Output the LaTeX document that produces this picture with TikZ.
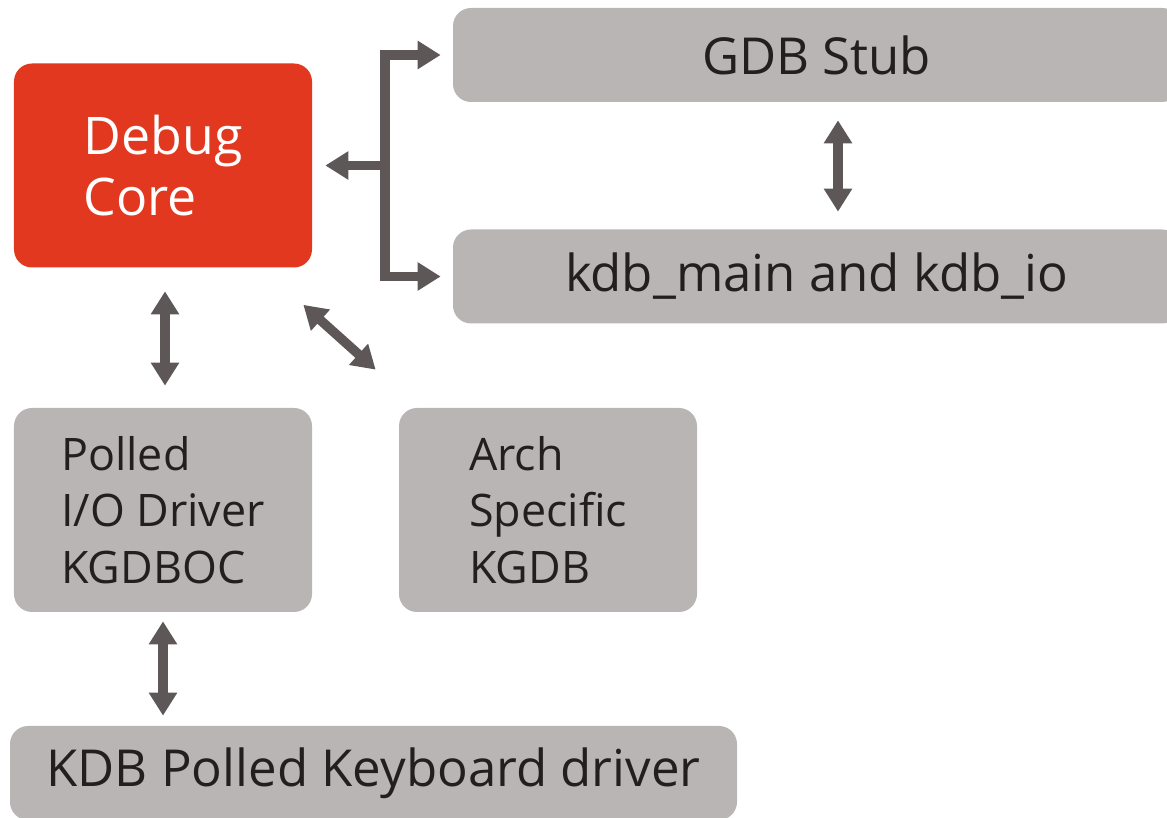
\documentclass[tikz,border=0pt]{standalone}
\usepackage{fontspec}
\setmainfont{Open Sans}
\usetikzlibrary{arrows.meta}
\definecolor{corered}{HTML}{E1381F}
\definecolor{boxgray}{HTML}{B8B5B4}
\definecolor{arrowgray}{HTML}{5D5857}
\definecolor{textdark}{HTML}{231F20}
\def\tiplen{0.46cm}
\def\tipwid{0.54cm}

\begin{document}
\begin{tikzpicture}[line join=miter]
		\tikzstyle{block}
		=[rectangle, rounded corners=0.36cm, fill=boxgray, text=textdark, inner sep=0pt]
		\tikzstyle{core block}
		=[block, fill=corered, text=white]
		\tikzstyle{tall block}
		=[block, minimum width=5.96cm, minimum height=4.08cm, align=left, font=\fontsize{25.5}{32}\selectfont]
		\tikzstyle{wide block}
		=[block, minimum width=14.54cm, minimum height=1.88cm, font=\fontsize{29}{34}\selectfont]
		\tikzstyle{link}
		=[draw=arrowgray, line width=0.19cm, -{Triangle[length=\tiplen,width=\tipwid]}]
		\tikzstyle{both link}
		=[link, {Triangle[length=\tiplen,width=\tipwid]}-{Triangle[length=\tiplen,width=\tipwid]}]
		
		\useasboundingbox (0,0) rectangle (23.34,16.36);
		
		% Draw the core and the two front ends
		\node[tall block, core block, font=\fontsize{29.5}{35}\selectfont] (core) at (3.26,13.05) {Debug\\Core};
		\node[wide block] (gdb) at (16.33,15.26) {GDB Stub};
		\node[wide block] (kdb) at (16.33,10.83) {kdb\_main and kdb\_io};
		
		% Draw the lower layer
		\node[tall block] (polled) at (3.26,6.16) {Polled\\I/O Driver\\KGDBOC};
		\node[tall block] (arch) at (10.96,6.16) {Arch\\Specific\\KGDB};
		\node[wide block] (kbd) at (7.47,0.90) {KDB Polled Keyboard driver};
		
		% Bracket from the core to both front ends
		\coordinate (jn) at (7.70,13.05);
		\draw[both link, shorten <=0.24cm, shorten >=0.24cm] (gdb.west) -- (gdb.west -| jn)
		-- (kdb.west -| jn) -- (kdb.west);
		\draw[link, shorten >=0.26cm] (jn) -- (core.east);
		
		% Double arrows between the layers
		\draw[both link, shorten <=0.36cm, shorten >=0.35cm] ([xshift=0.43cm]gdb.south) -- ([xshift=0.43cm]kdb.north);
		\draw[both link, shorten <=0.47cm, shorten >=0.44cm] ([xshift=0.04cm]core.south) -- ([xshift=0.04cm]polled.north);
		\draw[both link] ([shift={(-0.18,-0.74)}]core.south east) -- ([shift={(-0.46,0.76)}]arch.north west);
		\draw[both link, shorten <=0.18cm, shorten >=0.2cm] (polled.south) -- (polled.south |- kbd.north);
	\end{tikzpicture}
\end{document}
